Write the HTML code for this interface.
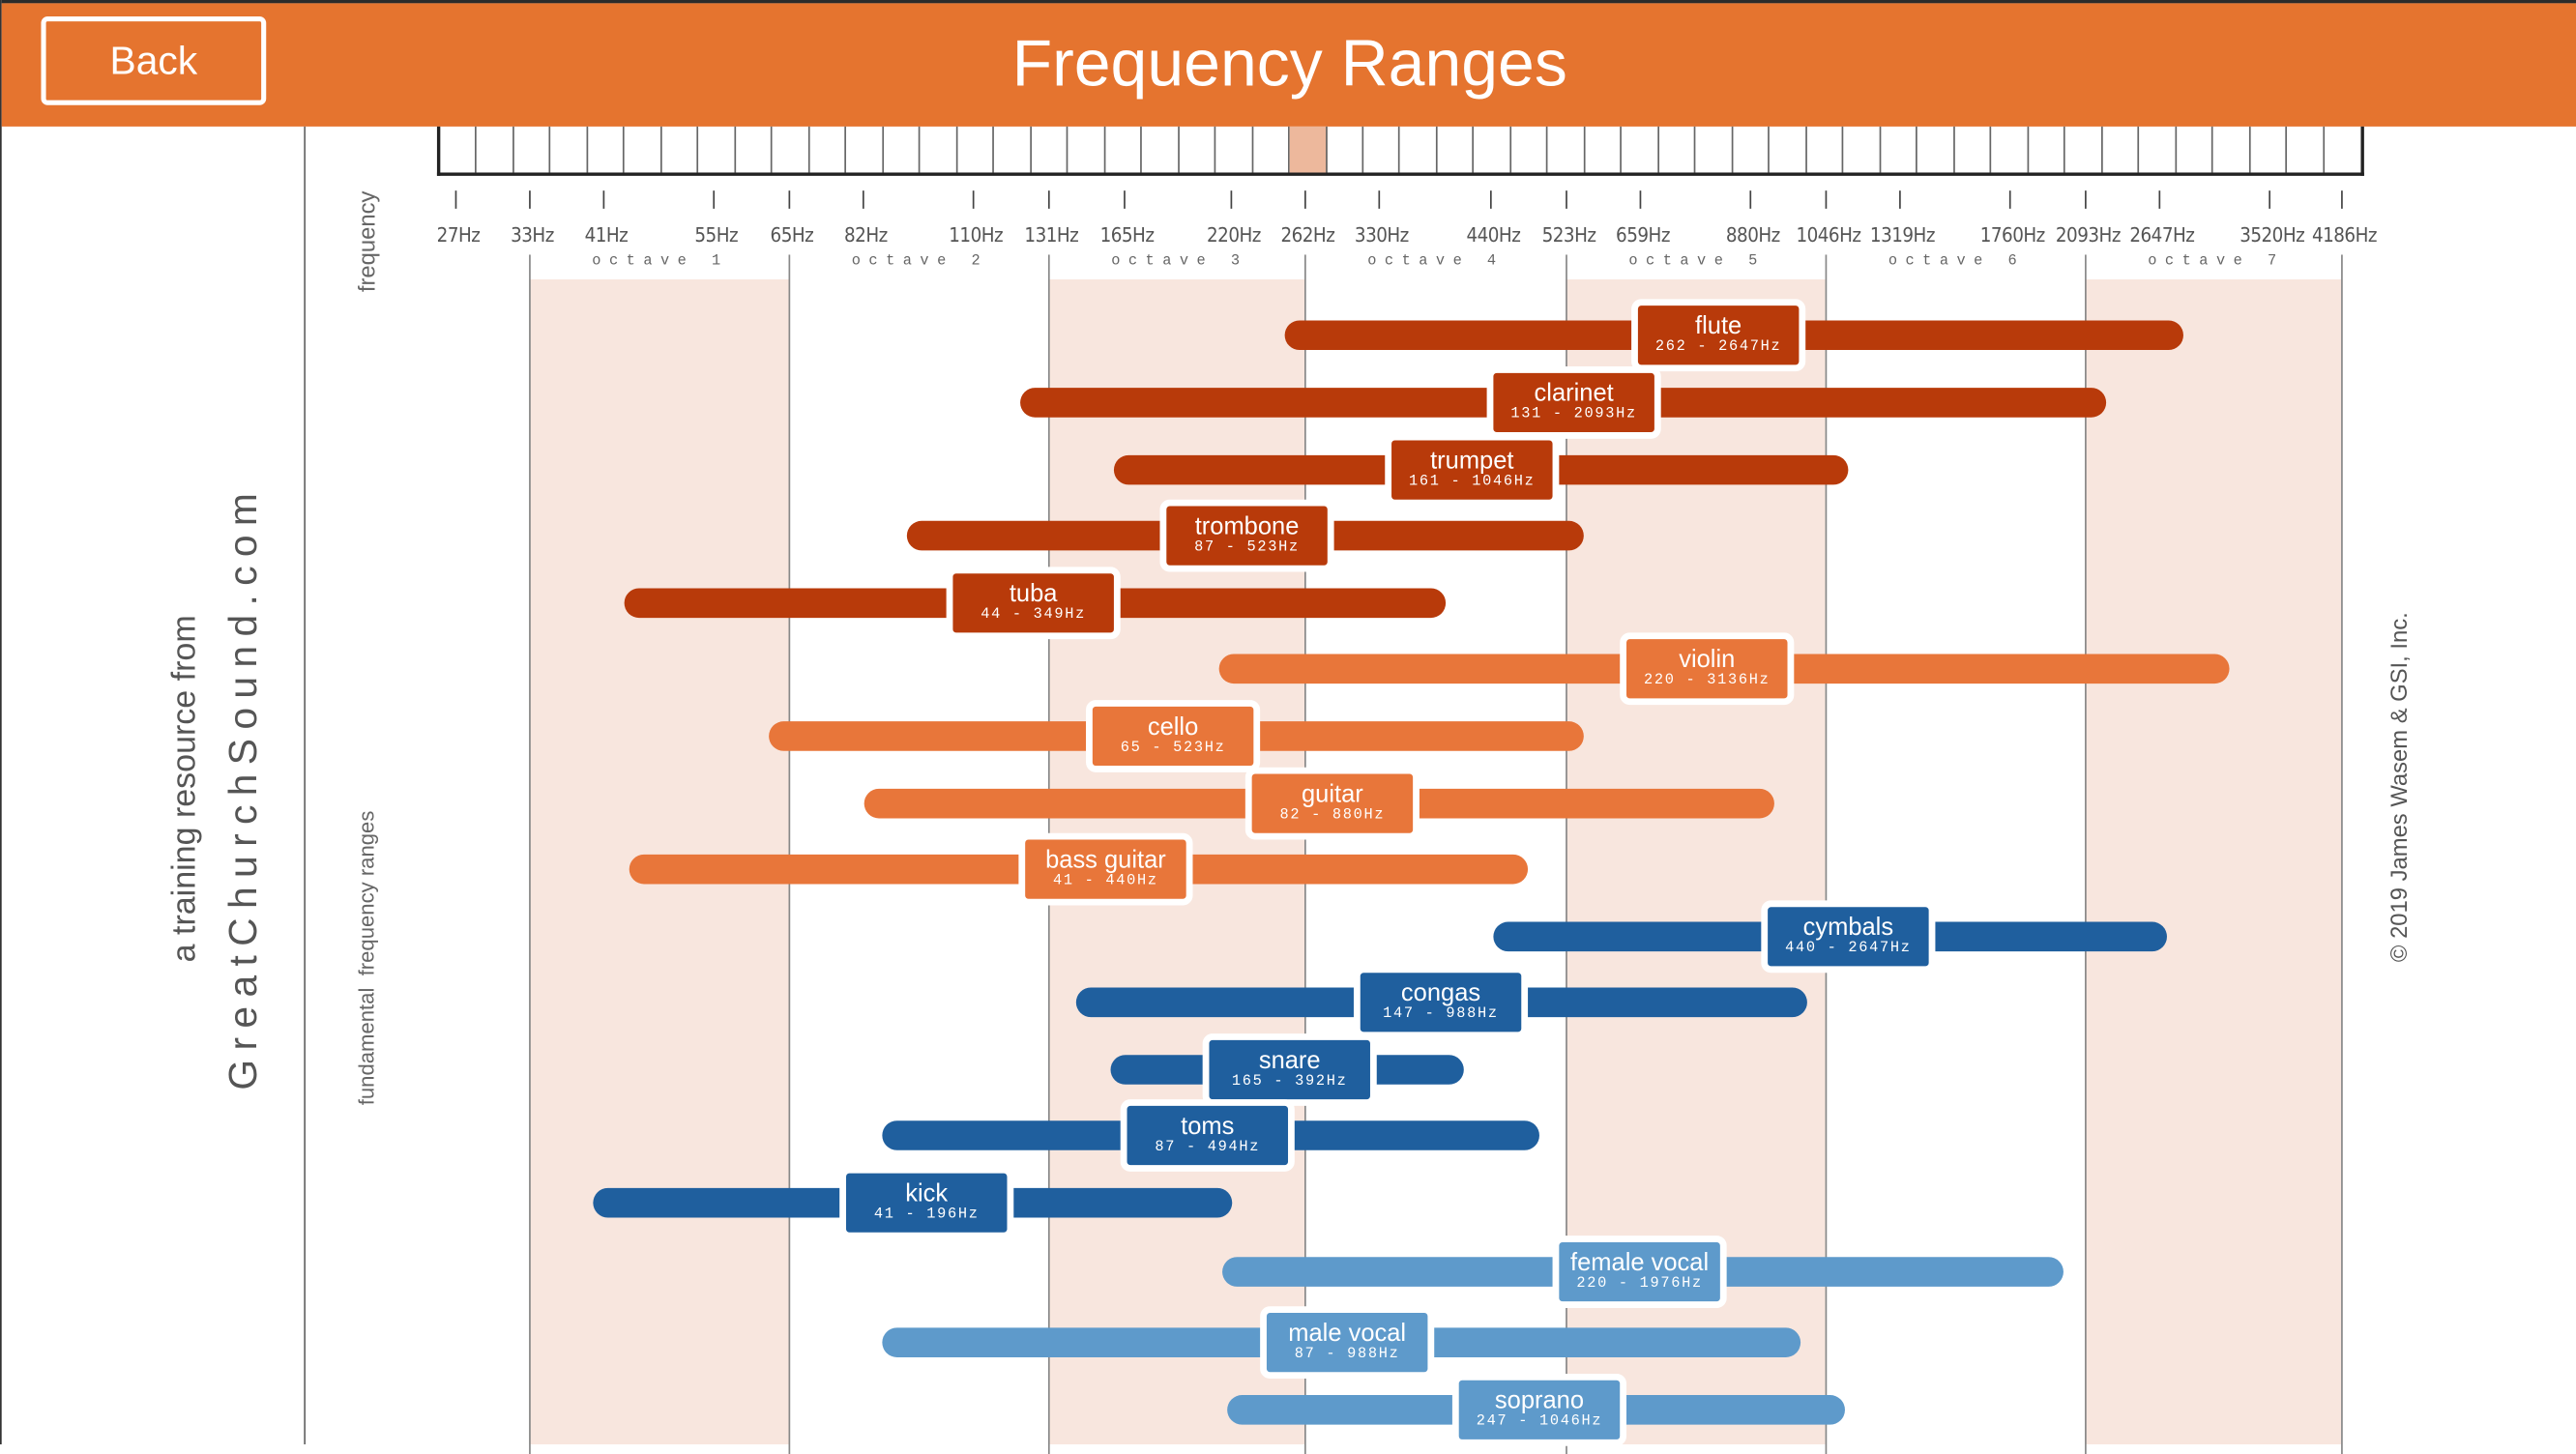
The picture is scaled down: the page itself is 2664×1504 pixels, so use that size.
<!DOCTYPE html>
<html><head><meta charset="utf-8"><style>
*{margin:0;padding:0;box-sizing:border-box}
html,body{width:2664px;height:1494px;overflow:hidden;background:#fff}
#w{position:absolute;left:0;top:0;width:1568px;height:879px;transform:scale(1.699,1.6997);transform-origin:0 0;font-family:"Liberation Sans",sans-serif;background:#fff;border-left:1px solid #333}
.a{position:absolute}
.rot{position:absolute;transform:translate(-50%,-50%) rotate(-90deg);white-space:nowrap}
.tick{position:absolute;top:116px;width:1px;height:11px;background:#444}
.tl{position:absolute;top:136px;font-size:12px;color:#555;transform:translateX(-50%);white-space:nowrap;font-family:"DejaVu Sans Condensed","Liberation Sans Narrow","Liberation Sans",sans-serif;letter-spacing:-0.3px}
.ol{position:absolute;top:155px;width:1px;height:730px;background:#888}
.oct{position:absolute;top:154px;font-size:9px;color:#666;letter-spacing:5px;transform:translateX(-50%);white-space:nowrap;font-family:"Liberation Mono",monospace}
.bar{position:absolute;height:18px;border-radius:9px}
.lb{position:absolute;width:106px;height:44px;border:4px solid #fff;border-radius:6px;color:#fff;text-align:center}
.lb b{display:block;font-weight:normal;font-size:15px;line-height:15px;margin-top:5px}
.lb i{display:block;font-style:normal;font-size:9px;letter-spacing:1px;line-height:11px;font-family:"Liberation Mono",monospace}
</style></head><body><div id="w">
<div class="a" style="left:0;top:0;width:1568px;height:2px;background:#2b2b2b"></div>
<div class="a" style="left:0;top:2px;width:1568px;height:75px;background:#E5742F"></div>
<div class="a" style="left:24px;top:10px;width:137px;height:54px;border:3px solid #fff;border-radius:4px;color:#fff;font-size:24px;text-align:center;line-height:50px">Back</div>
<div class="a" style="left:0;top:13px;width:1568px;text-align:center;color:#fff;font-size:40px;line-height:52px">Frequency Ranges</div>
<div class="a" style="left:184px;top:77px;width:1px;height:802px;background:#666"></div>
<div class="rot" style="left:112px;top:480px;font-size:20px;color:#555">a training resource from</div>
<div class="rot" style="left:148px;top:479px;font-size:24px;color:#555;letter-spacing:5.5px">GreatChurchSound.com</div>
<div class="rot" style="left:222px;top:147px;font-size:14px;color:#666">frequency</div>
<div class="rot" style="left:222px;top:583px;font-size:13px;color:#666">fundamental&nbsp; frequency ranges</div>
<div class="rot" style="left:1459px;top:479px;font-size:14px;color:#555">© 2019 James Wasem &amp; GSI, Inc.</div>
<div class="a" style="left:321px;top:170px;width:158px;height:709px;background:#F8E6DE"></div>
<div class="a" style="left:637px;top:170px;width:156px;height:709px;background:#F8E6DE"></div>
<div class="a" style="left:952px;top:170px;width:158px;height:709px;background:#F8E6DE"></div>
<div class="a" style="left:1268px;top:170px;width:156px;height:709px;background:#F8E6DE"></div>
<div id="kb" class="a" style="left:265px;top:77px;width:1173px;height:30px;border:2px solid #222;border-top:none"></div>
<div id="ax"></div>
<div id="bars"></div>
</div>
<script>
var kb=document.getElementById('kb'),h='';
var kw=1169/52;
for(var i=0;i<52;i++){h+='<div style="position:absolute;top:0;left:'+(i*kw)+'px;width:'+kw+'px;height:28px;border-right:'+(i<51?'1px solid #666':'none')+';background:'+(i==23?'#EDB89C':'transparent')+'"></div>';}
kb.innerHTML=h;
var t=[[27,276],[33,321],[41,366],[55,433],[65,479],[82,524],[110,591],[131,637],[165,683],[220,748],[262,793],[330,838],[440,906],[523,952],[659,997],[880,1064],[1046,1110],[1319,1155],[1760,1222],[2093,1268],[2647,1313],[3520,1380],[4186,1424]];
h='';t.forEach(function(a){h+='<div class="tick" style="left:'+a[1]+'px"></div><div class="tl" style="left:'+(a[1]+2)+'px">'+a[0]+'Hz</div>';});
[321,479,637,793,952,1110,1268,1424].forEach(function(x,i){h+='<div class="ol" style="left:'+x+'px"></div>';if(i<7)h+='<div class="oct" style="left:'+(x+80)+'px">octave '+(i+1)+'</div>';});
document.getElementById('ax').innerHTML=h;
var R='#B83A0A',O='#E8763A',B='#1F5F9E',L='#5E9ACB';
var d=[['flute','262 - 2647Hz',204,781,1328,1045,R],['clarinet','131 - 2093Hz',245,620,1281,957,R],['trumpet','161 - 1046Hz',286,677,1124,895,R],['trombone','87 - 523Hz',326,551,963,758,R],['tuba','44 - 349Hz',367,379,879,628,R],
['violin','220 - 3136Hz',407,741,1356,1038,O],['cello','65 - 523Hz',448,467,963,713,O],['guitar','82 - 880Hz',489,525,1079,810,O],['bass guitar','41 - 440Hz',529,382,929,672,O],
['cymbals','440 - 2647Hz',570,908,1318,1124,B],['congas','147 - 988Hz',610,654,1099,876,B],['snare','165 - 392Hz',651,675,890,784,B],['toms','87 - 494Hz',691,536,936,734,B],['kick','41 - 196Hz',732,360,749,563,B],
['female vocal','220 - 1976Hz',774,743,1255,997,L],['male vocal','87 - 988Hz',817,536,1095,819,L],['soprano','247 - 1046Hz',858,746,1122,936,L]];
h='';d.forEach(function(a){h+='<div class="bar" style="left:'+a[3]+'px;top:'+(a[2]-9)+'px;width:'+(a[4]-a[3])+'px;background:'+a[6]+'"></div><div class="lb" style="left:'+(a[5]-53)+'px;top:'+(a[2]-22)+'px;background:'+a[6]+'"><b>'+a[0]+'</b><i>'+a[1]+'</i></div>';});
document.getElementById('bars').innerHTML=h;
</script>
</body></html>
